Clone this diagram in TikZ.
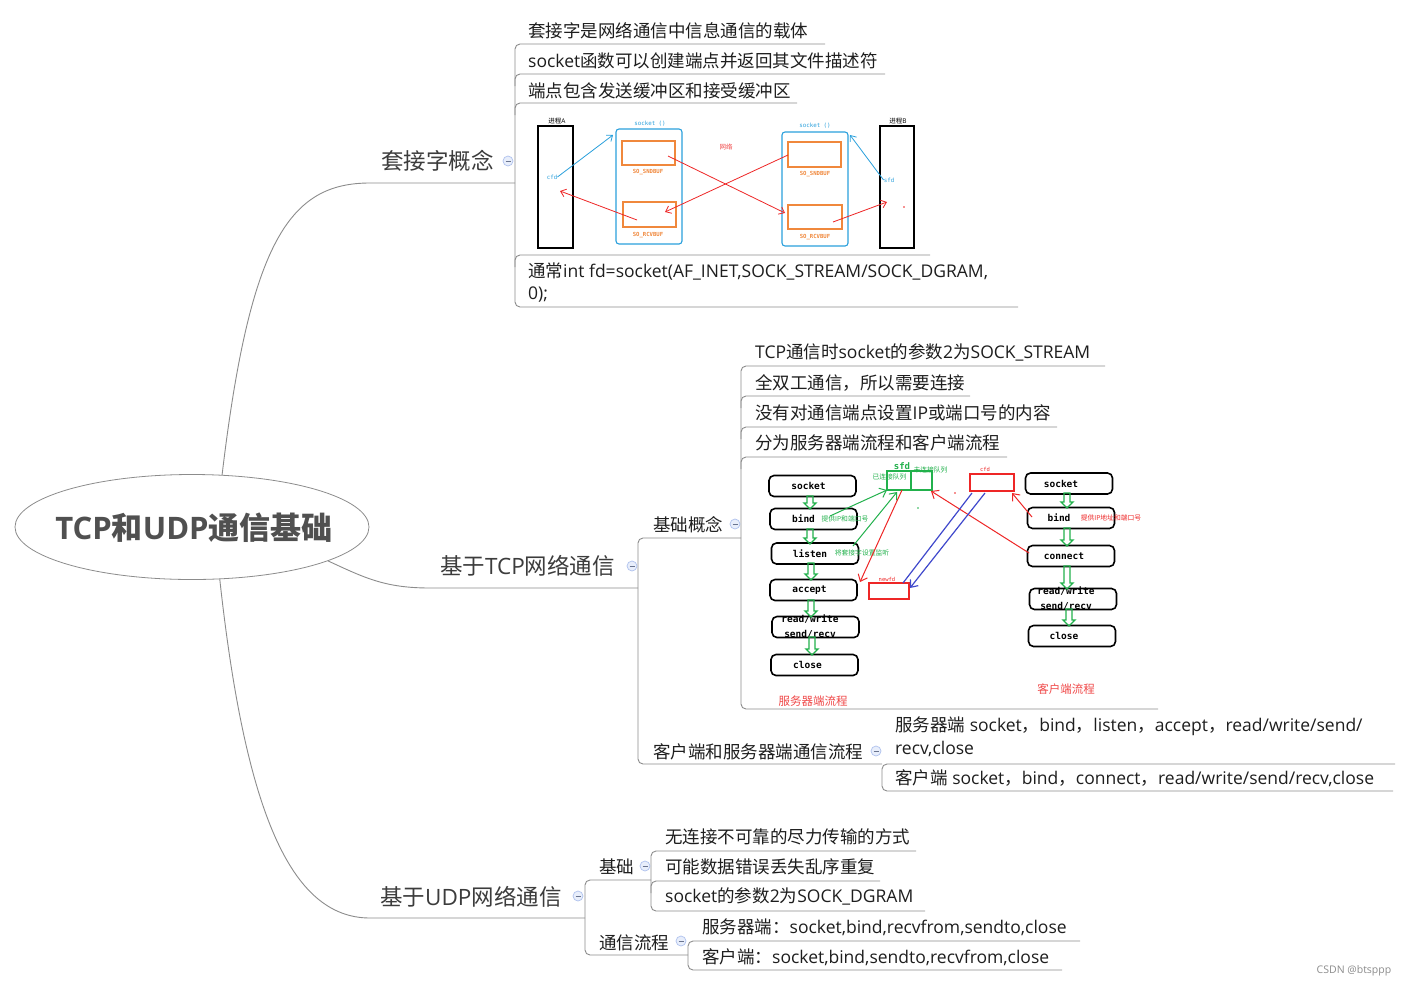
\documentclass[tikz,border=0pt]{standalone}
\usepackage{fontspec}
\setmainfont{Open Sans}
\newfontfamily\zhfont{Noto Sans CJK SC}
\newfontfamily\monofont{DejaVu Sans Mono}
\newcommand\zh[1]{{\zhfont #1}}
\newcommand\lsh[2]{#1\hspace*{#2pt}}
\usetikzlibrary{arrows.meta,shapes.geometric}
\definecolor{lgray}{HTML}{8C8C8C}
\definecolor{txt}{HTML}{1E1E1E}
\definecolor{ltwo}{HTML}{3C3C3C}
\definecolor{ttl}{HTML}{505050}
\definecolor{cy}{HTML}{2AA0DC}
\definecolor{org}{HTML}{F0883C}
\definecolor{rd}{HTML}{EE2626}
\definecolor{rdl}{HTML}{F04848}
\definecolor{gr}{HTML}{22B14C}
\definecolor{bl}{HTML}{3F48CC}
\definecolor{cbfill}{HTML}{E8EEFB}
\definecolor{cbdraw}{HTML}{AFC2EE}
\tikzset{
 br/.style={draw=lgray,line width=0.9pt,rounded corners=5pt},
 brc/.style={draw=lgray,line width=0.9pt},
 leaf/.style={anchor=base west,inner sep=0pt,text=txt,font=\fontsize{17.5}{22}\selectfont},
 lvtwo/.style={anchor=base west,inner sep=0pt,text=ltwo,font=\fontsize{22.5}{27}\selectfont},
 cb/.style={circle,draw=cbdraw,fill=cbfill,minimum size=10pt,inner sep=0pt,line width=0.7pt,
   path picture={\draw[draw=cbdraw!60!black,line width=0.7pt] ([xshift=-2.5pt]path picture bounding box.center) -- ([xshift=2.5pt]path picture bounding box.center);}},
 pbox/.style={draw=black,line width=1.6pt,rounded corners=5pt,minimum width=87pt,minimum height=21pt,inner sep=0pt,font=\monofont\bfseries\fontsize{9.5}{15}\selectfont},
 btxt/.style={inner sep=0pt,font=\monofont\bfseries\fontsize{9.5}{15}\selectfont,align=center},
 tiny/.style={inner sep=0pt,font=\fontsize{6.5}{7}\selectfont},
 tmono/.style={inner sep=0pt,font=\monofont\fontsize{5.8}{7}\selectfont},
 tmonob/.style={inner sep=0pt,font=\monofont\bfseries\fontsize{5.6}{7}\selectfont},
 arr/.style={-{Straight Barb[length=6pt,width=10pt]},line width=1pt},
 sarr/.style={-{Straight Barb[length=5pt,width=8pt]},line width=0.8pt},
 garrowst/.style={draw=gr,line width=1.3pt,line join=miter},
 sbox/.style={inner sep=0pt,line width=1.1pt},
}
\newcommand\garr[3]{\draw[garrowst] (#1-3,#2) -- (#1+3,#2) -- (#1+3,#3-6) -- (#1+6,#3-6) -- (#1,#3) -- (#1-6,#3-6) -- (#1-3,#3-6) -- cycle;}
\begin{document}
\begin{tikzpicture}[x=1pt,y=-1pt]
\useasboundingbox (0,0) rectangle (1409,986);
\fill[white] (0,0) rectangle (1409,986);

% root
\node[ellipse,draw=lgray,line width=0.8pt,minimum width=354pt,minimum height=105pt,inner sep=0pt] (root) at (192,527) {};
\node[font=\fontsize{31}{31}\selectfont\bfseries,text=ttl,inner sep=0pt] (title) at (194,528) {TCP\zh{和}UDP\zh{通信基础}};

% ---------- socket concept ----------
\coordinate (k0a) at (370,183);
\coordinate (k0b) at (515,183);
\draw[brc] (root.60) .. controls (250,240) and (290,183) .. (k0a) -- (k0b);
\draw[br] (825,44) -- (515,44) -- (515,307) -- (1018,307);
\draw[br] (885,74) -- (515,74) -- (515,86);
\draw[br] (797,103) -- (515,103) -- (515,115);
\draw[br] (930,255) -- (515,255) -- (515,267);
\node[lvtwo] (k0) at (381,169.5) {\zh{套接字概念}};
\node[cb] (c1) at (508,161) {};
\node[leaf] (s1) at (528,37) {\zh{套接字是网络通信中信息通信的载体}};
\node[leaf] (s2) at (528,67) {socket\zh{函数可以创建端点并返回其文件描述符}};
\node[leaf] (s3) at (528,97) {\zh{端点包含发送缓冲区和接受缓冲区}};
\node[leaf,align=left] (s5) at (528,299) {\zh{通常}int fd=socket(AF\_INET,SOCK\_STREAM/SOCK\_DGRAM,\\0);};

% socket picture
\node[draw=black,line width=1.3pt,minimum width=35pt,minimum height=122pt,inner sep=0pt] (pA) at (555.5,187) {};
\node[tiny,text=black] (pAl) at (557,121) {\zh{进程}A};
\node[draw=cy,sbox,rounded corners=3pt,minimum width=66pt,minimum height=115pt] (sockL) at (649,186.5) {};
\node[tmono,text=cy] (sockLl) at (650,124) {socket ()};
\node[draw=org,sbox,minimum width=53pt,minimum height=24pt] (sndL) at (648.5,153) {};
\node[tmonob,text=org] (sndLl) at (648,172) {SO\_SNDBUF};
\node[draw=org,sbox,minimum width=53pt,minimum height=25pt] (rcvL) at (649.5,214.5) {};
\node[tmonob,text=org] (rcvLl) at (648,235) {SO\_RCVBUF};
\node[draw=cy,sbox,rounded corners=3pt,minimum width=66pt,minimum height=114pt] (sockR) at (815,189) {};
\node[tmono,text=cy] (sockRl) at (815,126) {socket ()};
\node[draw=org,sbox,minimum width=53pt,minimum height=25pt] (sndR) at (814.5,154.5) {};
\node[tmonob,text=org] (sndRl) at (815,174) {SO\_SNDBUF};
\node[draw=org,sbox,minimum width=54pt,minimum height=24pt] (rcvR) at (815,217) {};
\node[tmonob,text=org] (rcvRl) at (815,237) {SO\_RCVBUF};
\node[draw=black,line width=1.3pt,minimum width=34pt,minimum height=122pt,inner sep=0pt] (pB) at (897,187) {};
\node[tiny,text=black] (pBl) at (898,121) {\zh{进程}B};
\node[tiny,text=rdl] (net) at (726,147) {\zh{网络}};
\node[tmono,text=cy] (cfdA) at (552,177) {cfd};
\node[tmono,text=cy] (sfdB) at (889,180) {sfd};
\coordinate (a1e) at (613,135);
\coordinate (a2s) at (637,220); \coordinate (a2e) at (560,191);
\coordinate (a3s) at (668,156); \coordinate (a3e) at (785,213);
\coordinate (a4s) at (788,155); \coordinate (a4e) at (665,212);
\coordinate (a5s) at (833,222); \coordinate (a5e) at (887,202);
\coordinate (a6e) at (850,135);
\draw[sarr,draw=cy] (cfdA.east) -- (a1e);
\draw[sarr,draw=rd] (a2s) -- (a2e);
\draw[sarr,draw=rd] (a3s) -- (a3e);
\draw[sarr,draw=rd] (a4s) -- (a4e);
\draw[sarr,draw=rd] (a5s) -- (a5e);
\draw[sarr,draw=cy] (sfdB.west) -- (a6e);
\fill[rd] (904,207) circle (0.8pt);

% ---------- TCP ----------
\coordinate (t0a) at (430,588);
\coordinate (t0b) at (638,588);
\draw[brc] (root.-14) .. controls (365,578) and (385,588) .. (t0a) -- (t0b);
\draw[br] (741,538) -- (638,538) -- (638,764) -- (882,764);
\draw[br] (1395,764) -- (882,764) -- (882,791) -- (1393,791);
\draw[br] (1105,366) -- (741,366) -- (741,709) -- (1158,709);
\draw[br] (970,396) -- (741,396) -- (741,408);
\draw[br] (1057,427) -- (741,427) -- (741,439);
\draw[br] (1007,457) -- (741,457) -- (741,469);
\node[lvtwo] (t0) at (440,574.5) {\zh{基于}TCP\zh{网络通信}};
\node[cb] (c2) at (632,566) {};
\node[leaf] (t1) at (653,531) {\zh{基础概念}};
\node[cb] (c3) at (735,524) {};
\node[leaf] (t2) at (653,758) {\zh{客户端和服务器端通信流程}};
\node[cb] (c4) at (876,751) {};
\node[leaf] (t11) at (755,358) {TCP\zh{通信时}socket\zh{的参数}2\zh{为}SOCK\_STREAM};
\node[leaf] (t12) at (755,389) {\zh{全双工通信，所以需要连接}};
\node[leaf] (t13) at (755,419) {\zh{没有对通信端点设置}IP\zh{或端口号的内容}};
\node[leaf] (t14) at (755,449) {\zh{分为服务器端流程和客户端流程}};
\node[leaf,align=left,font=\fontsize{17.5}{23}\selectfont] (t21) at (895,754) {\zh{服务器端} socket\zh{，}bind\zh{，}listen\zh{，}accept\zh{，}read/write/send/\\recv,close};
\node[leaf] (t22) at (895,784) {\zh{客户端} socket\zh{，}bind\zh{，}connect\zh{，}read/write/send/recv,close};

% TCP picture: server
\node[pbox] (sv1) at (812.5,486) {\lsh{socket}{8}};
\node[pbox] (sv2) at (813.5,519) {\lsh{bind}{20}};
\node[pbox] (sv3) at (815,553.5) {\lsh{listen}{10}};
\node[pbox] (sv4) at (813.5,590) {\lsh{accept}{8}};
\node[pbox] (sv5) at (815.5,627) {};
\node[btxt] (sv5t) at (810,627) {read/write\\send/recv};
\node[pbox] (sv6) at (814.5,665) {\lsh{close}{14}};
\garr{810}{496}{509}
\garr{810}{529}{544}
\garr{811}{563}{580}
\garr{811}{600}{617}
\garr{812}{637}{655}
\node[inner sep=0pt,text=rdl,font=\fontsize{11.5}{12}\selectfont] (svl) at (813,701) {\zh{服务器端流程}};
% client
\node[pbox] (cl1) at (1069,483.5) {\lsh{socket}{16}};
\node[pbox] (cl2) at (1071,518) {\lsh{bind}{24}};
\node[pbox] (cl3) at (1071,556) {\lsh{connect}{14}};
\node[pbox] (cl4) at (1073,599) {};
\node[btxt] (cl4t) at (1066,599) {read/write\\send/recv};
\node[pbox] (cl5) at (1072,636) {\lsh{close}{16}};
\garr{1067}{493}{508}
\garr{1067}{528}{546}
\garr{1067}{566}{589}
\garr{1069}{609}{626}
\node[inner sep=0pt,text=rdl,font=\fontsize{11.5}{12}\selectfont] (cll) at (1066,689) {\zh{客户端流程}};
% sfd / cfd / newfd
\node[draw=gr,line width=1.3pt,minimum width=45pt,minimum height=19pt,inner sep=0pt] (sfd) at (909.5,480.5) {};
\draw[gr,line width=1.3pt] (sfd.north) ++(1.5,0) -- ++(0,19);
\node[inner sep=0pt,text=gr,font=\monofont\bfseries\fontsize{9}{9}\selectfont] (sfdl) at (902,466) {sfd};
\node[inner sep=0pt,text=gr,font=\zhfont\fontsize{6.8}{7}\selectfont] (q1) at (889.5,477) {已连接队列};
\node[inner sep=0pt,text=gr,font=\zhfont\fontsize{6.8}{7}\selectfont] (q2) at (930.5,469.5) {未连接队列};
\node[draw=rd,line width=1.3pt,minimum width=40pt,minimum height=16pt,inner sep=0pt] (newfd) at (889,591) {};
\node[inner sep=0pt,text=rd,font=\monofont\fontsize{5.5}{6}\selectfont] (newfdl) at (887,579) {newfd};
\node[draw=rd,line width=1.3pt,minimum width=44pt,minimum height=17pt,inner sep=0pt] (cfd) at (992,482.5) {};
\node[inner sep=0pt,text=rd,font=\monofont\fontsize{5.5}{6}\selectfont] (cfdl) at (985,469) {cfd};
\node[inner sep=0pt,text=gr,font=\fontsize{6.8}{7}\selectfont] (gl1) at (845,519) {\zh{提供}IP\zh{和端口号}};
\node[inner sep=0pt,text=gr,font=\zhfont\fontsize{6.8}{7}\selectfont] (gl2) at (862,553) {将套接字设置监听};
\node[inner sep=0pt,text=rd,font=\fontsize{6.8}{7}\selectfont] (rl1) at (1111,518) {\zh{提供}IP\zh{地址和端口号}};
\coordinate (g1s) at (830,516); \coordinate (g1e) at (887,490);
\coordinate (g2s) at (853,546); \coordinate (g2e) at (897,492);
\coordinate (r1s) at (902,490); \coordinate (r1e) at (860,582);
\coordinate (r2s) at (1029,553); \coordinate (r2e) at (931,491);
\coordinate (r3s) at (1032,517); \coordinate (r3e) at (1012,493);
\coordinate (b1s) at (903,583); \coordinate (b1e) at (972,493);
\coordinate (b2s) at (985,493); \coordinate (b2e) at (910,588);
\draw[arr,draw=gr] (g1s) -- (g1e);
\draw[arr,draw=gr] (g2s) -- (g2e);
\draw[arr,draw=rd] (r1s) -- (r1e);
\draw[arr,draw=rd] (r2s) -- (r2e);
\draw[arr,draw=rd] (r3s) -- (r3e);
\draw[line width=1.2pt,draw=bl] (b1s) -- (b1e);
\draw[arr,line width=1.2pt,draw=bl] (b2s) -- (b2e);
\fill[rd] (955,493) circle (0.9pt);
\fill[gr] (918,508) circle (0.9pt);

% ---------- UDP ----------
\coordinate (u0a) at (370,918);
\coordinate (u0b) at (585,918);
\draw[brc] (root.-62) .. controls (245,810) and (290,918) .. (u0a) -- (u0b);
\draw[br] (651,880) -- (585,880) -- (585,955) -- (688,955);
\draw[br] (916,851) -- (651,851) -- (651,911) -- (925,911);
\draw[br] (880,881) -- (651,881) -- (651,893);
\draw[br] (1080,941) -- (688,941) -- (688,970) -- (1062,970);
\node[lvtwo] (u0) at (380,905.5) {\zh{基于}UDP\zh{网络通信}};
\node[cb] (c5) at (578,896) {};
\node[leaf] (u1) at (599,873) {\zh{基础}};
\node[cb] (c6) at (645,866) {};
\node[leaf] (u2) at (599,949) {\zh{通信流程}};
\node[cb] (c7) at (681,941) {};
\node[leaf] (u11) at (665,843) {\zh{无连接不可靠的尽力传输的方式}};
\node[leaf] (u12) at (665,873) {\zh{可能数据错误丢失乱序重复}};
\node[leaf] (u13) at (665,902) {socket\zh{的参数}2\zh{为}SOCK\_DGRAM};
\node[leaf] (u21) at (702,933) {\zh{服务器端：}socket,bind,recvfrom,sendto,close};
\node[leaf] (u22) at (702,963) {\zh{客户端：}socket,bind,sendto,recvfrom,close};

\node[inner sep=0pt,text=black!45,font=\fontsize{10.5}{11}\selectfont] (wm) at (1354,971) {CSDN @btsppp};
\end{tikzpicture}
\end{document}
